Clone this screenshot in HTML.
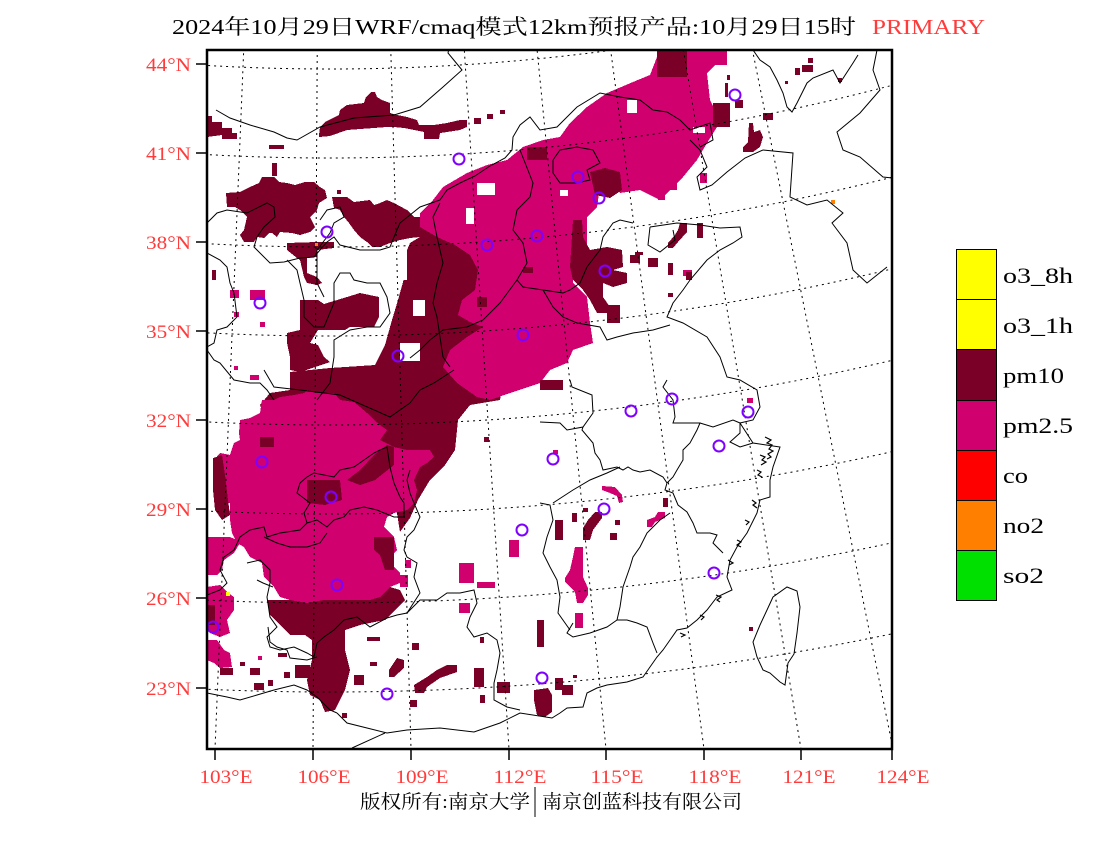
<!DOCTYPE html>
<html><head><meta charset="utf-8"><style>
html,body{margin:0;padding:0;background:#fff;}
svg{display:block;}
.t{font-family:"Liberation Serif","Noto Serif CJK SC",serif;}
.r{fill:#ff3b3b;}
</style></head><body>
<svg width="1100" height="850" viewBox="0 0 1100 850" xmlns="http://www.w3.org/2000/svg">
<defs><clipPath id="c"><rect x="207" y="50" width="685" height="699"/></clipPath></defs>
<rect width="1100" height="850" fill="#fff"/>

<!-- title -->
<text class="t" x="172" y="34" font-size="21" textLength="684" lengthAdjust="spacingAndGlyphs" fill="#000">2024年10月29日WRF/cmaq模式12km预报产品:10月29日15时</text>
<text class="t" x="872" y="34" font-size="21" textLength="113" lengthAdjust="spacingAndGlyphs" fill="#ff3b3b">PRIMARY</text>

<g clip-path="url(#c)">
<g shape-rendering="crispEdges">
<!-- pm10 dark base -->
<g fill="#7b0027">
<polygon points="207,116 212,116 212,122 222,122 222,128 232,128 232,133 237,133 237,139 222,139 222,135 207,137"/>
<rect x="269" y="145" width="15" height="4"/>
<polygon points="319,135 320,127 325,122 339,115 340,110 347,105 364,103 366,97 371,92 375,92 377,97 382,100 390,103 390,113 397,115 407,117 417,120 419,125 434,125 447,123 460,120 467,120 467,127 460,130 447,132 440,133 439,139 424,139 424,132 414,130 404,128 394,127 387,127 347,130 330,136 319,137"/>
<rect x="474" y="118" width="7" height="6"/><rect x="487" y="114" width="6" height="5"/><rect x="500" y="110" width="5" height="4"/>
<polygon points="226,193 240,192 250,187 259,183 262,177 274,177 279,182 287,183 295,185 305,182 314,182 320,187 325,190 327,198 319,203 317,210 310,217 315,227 310,232 300,235 292,233 280,232 277,237 272,233 269,233 264,238 257,237 254,242 244,242 240,235 244,230 247,217 240,210 235,207 227,207"/>
<rect x="272" y="163" width="5" height="13"/>
<rect x="212" y="270" width="4" height="10"/><rect x="337" y="190" width="4" height="4"/>
<polygon points="332,197 347,197 354,202 370,200 374,205 380,203 387,200 394,203 407,210 414,217 424,217 429,213 427,230 420,237 410,238 400,240 390,243 380,247 372,247 367,242 360,237 354,230 349,223 344,217 340,210 334,208"/>
<polygon points="287,243 317,242 334,242 334,248 317,250 317,257 307,258 307,273 317,277 322,283 317,285 307,283 304,277 300,260 297,258 287,250"/>
<polygon points="300,300 318,300 324,304 347,297 360,293 379,297 379,317 374,327 350,327 345,330 318,330 310,343 287,343 287,333 300,330"/>
<polygon points="287,343 310,343 318,345 324,357 330,362 300,372 290,370 290,357"/>
<polygon points="410,243 420,237 427,230 440,200 455,192 470,215 480,250 492,290 500,330 505,370 500,400 470,405 458,420 455,450 445,465 430,480 418,500 410,518 400,532 390,470 370,430 340,410 300,405 290,395 290,372 330,368 375,365 385,345 392,320 398,300 405,275 405,255"/>
<polygon points="260,405 270,393 290,390 295,400 262,410"/>
<!-- south dark -->
<polygon points="267,600 290,600 307,603 323,600 370,600 390,587 400,590 405,600 395,610 385,620 360,625 345,630 345,650 350,670 345,690 340,700 335,710 325,712 320,700 310,695 307,680 312,660 312,640 305,635 290,635 280,625 270,615"/>
</g>

<!-- pm2.5 magenta -->
<g fill="#d0006f">
<polygon points="477,397 457,383 443,367 450,350 467,337 483,327 470,322 458,315 462,300 475,290 478,270 470,255 455,245 437,237 420,227 420,213 433,200 443,187 467,173 487,165 507,160 523,147 543,140 560,137 570,123 587,107 607,93 633,82 650,75 657,57 667,50 727,50 717,63 707,73 710,100 715,110 717,127 707,143 697,160 683,177 670,190 660,200 640,190 620,193 613,183 600,187 597,207 587,217 587,250 573,263 573,283 587,297 590,323 593,343 573,350 567,363 550,370 540,383 510,393 490,400"/>
<polygon points="214,460 220,453 230,455 234,443 240,440 239,433 240,420 250,418 260,413 262,400 274,400 280,397 294,395 304,393 307,390 317,393 334,393 340,400 354,402 360,407 367,413 374,420 380,425 387,430 380,440 394,447 407,450 420,450 430,450 434,457 427,463 420,467 414,480 417,490 414,503 407,510 394,513 387,517 384,527 394,537 397,550 390,557 394,567 400,573 400,583 390,587 380,597 370,600 347,600 324,600 307,603 290,600 280,597 274,587 264,577 262,563 250,557 244,547 237,543 232,533 230,520 230,503 220,503 217,497 214,487"/>
<polygon points="207,537 224,537 230,537 237,540 240,543 234,553 224,560 222,570 217,575 207,575"/>
<polygon points="207,587 220,585 227,592 234,597 234,610 227,620 230,633 220,637 210,633 207,630"/>
<polygon points="207,640 217,640 224,650 230,653 232,667 220,668 214,663 207,660"/>
<rect x="509" y="540" width="10" height="17"/><rect x="459" y="563" width="15" height="20"/><rect x="477" y="582" width="18" height="6"/><rect x="459" y="603" width="11" height="10"/>
<rect x="230" y="290" width="9" height="8"/><rect x="250" y="290" width="15" height="10"/><rect x="234" y="312" width="5" height="5"/><rect x="260" y="322" width="5" height="5"/>
<rect x="234" y="366" width="4" height="4"/><rect x="250" y="375" width="9" height="5"/><rect x="258" y="656" width="4" height="4"/>
<rect x="400" y="575" width="8" height="12"/><rect x="405" y="560" width="6" height="8"/>
<polygon points="602,486 615,487 622,495 623,502 619,503 617,496 610,493 602,490"/>
<polygon points="658,512 665,512 665,518 655,522 652,527 647,527 647,520 655,517"/>
<polygon points="575,547 583,547 583,577 588,588 588,595 583,603 577,603 575,592 565,582 565,578 570,570 573,557"/>
<rect x="575" y="613" width="8" height="15"/><rect x="747" y="398" width="6" height="5"/>
<rect x="658" y="193" width="7" height="7"/><rect x="663" y="182" width="14" height="8"/><rect x="700" y="173" width="7" height="10"/>
<rect x="690" y="50" width="37" height="15"/>
<rect x="683" y="270" width="9" height="6"/><rect x="553" y="450" width="5" height="4"/>
</g>

<!-- pm10 overlays -->
<g fill="#7b0027">
<polygon points="213,458 222,455 225,475 228,500 230,515 222,520 215,510 213,490"/>
<rect x="260" y="437" width="14" height="10"/>
<polygon points="307,480 340,480 342,500 325,505 307,503"/>
<polygon points="347,480 360,470 374,455 387,445 394,447 394,465 375,480 360,485"/>
<polygon points="374,537 394,537 394,570 385,570 380,555 374,550"/>
<rect x="207" y="605" width="8" height="20"/>
<rect x="657" y="50" width="30" height="27"/>
<rect x="713" y="103" width="17" height="24"/>
<rect x="527" y="147" width="20" height="13"/>
<polygon points="590,172 605,168 620,172 622,190 610,198 595,195"/>
<rect x="477" y="297" width="10" height="10"/><rect x="523" y="267" width="10" height="6"/>
<rect x="610" y="172" width="7" height="5"/>
<polygon points="573,220 582,220 583,237 590,250 607,247 622,250 623,267 613,270 627,273 627,283 613,287 603,283 603,297 610,307 610,313 597,313 590,300 583,290 573,280 570,267"/>
<rect x="607" y="305" width="13" height="18"/>
<polygon points="749,123 753,123 754,132 760,130 763,137 760,147 753,152 743,152 743,147 748,142"/>
<rect x="763" y="113" width="10" height="7"/><rect x="802" y="65" width="11" height="7"/><rect x="795" y="68" width="5" height="7"/><rect x="808" y="58" width="5" height="5"/><rect x="785" y="81" width="3" height="3"/><rect x="838" y="78" width="4" height="4"/>
<rect x="727" y="75" width="3" height="5"/><rect x="725" y="83" width="3" height="14"/><rect x="735" y="100" width="8" height="8"/>
<polygon points="680,223 687,223 687,232 678,242 673,248 668,248 668,243 675,235 678,230"/>
<rect x="697" y="223" width="6" height="15"/><rect x="648" y="258" width="10" height="9"/><rect x="635" y="252" width="8" height="3"/><rect x="630" y="255" width="10" height="8"/>
<rect x="668" y="263" width="5" height="12"/><rect x="686" y="272" width="6" height="8"/><rect x="668" y="293" width="5" height="4"/>
<rect x="295" y="665" width="15" height="13"/><rect x="254" y="683" width="10" height="7"/><rect x="284" y="672" width="6" height="6"/><rect x="250" y="668" width="10" height="7"/>
<rect x="240" y="662" width="5" height="4"/><rect x="268" y="680" width="5" height="6"/><rect x="278" y="653" width="9" height="4"/><rect x="220" y="668" width="13" height="7"/>
<rect x="367" y="637" width="13" height="4"/><rect x="370" y="662" width="7" height="4"/>
<polygon points="397,658 404,660 404,668 394,677 389,677 389,670"/>
<polygon points="447,665 457,665 457,672 440,678 427,687 424,693 415,693 414,685 427,677 437,670"/>
<rect x="412" y="643" width="7" height="7"/><rect x="410" y="700" width="7" height="7"/><rect x="342" y="713" width="5" height="5"/><rect x="354" y="675" width="10" height="10"/>
<rect x="474" y="668" width="10" height="19"/><rect x="480" y="695" width="5" height="8"/><rect x="497" y="682" width="13" height="11"/>
<polygon points="534,690 548,688 552,695 552,712 545,717 537,715 534,700"/>
<rect x="537" y="620" width="7" height="27"/><rect x="480" y="637" width="4" height="6"/><rect x="484" y="437" width="5" height="5"/>
<rect x="555" y="520" width="8" height="20"/><rect x="572" y="513" width="5" height="9"/><rect x="610" y="533" width="7" height="7"/><rect x="615" y="520" width="5" height="5"/><rect x="583" y="508" width="5" height="4"/><rect x="663" y="498" width="5" height="9"/>
<polygon points="595,512 602,512 602,518 593,530 590,540 583,540 583,528 588,520"/>
<rect x="555" y="678" width="8" height="12"/><rect x="562" y="685" width="11" height="10"/><rect x="573" y="675" width="4" height="3"/><rect x="749" y="627" width="4" height="4"/>
<rect x="540" y="380" width="23" height="10"/>
</g>
<!-- white holes -->
<g fill="#fff">
<rect x="627" y="100" width="10" height="13"/><rect x="693" y="127" width="12" height="6"/><rect x="477" y="183" width="18" height="12"/><rect x="466" y="208" width="8" height="16"/>
<rect x="560" y="190" width="8" height="6"/><rect x="400" y="343" width="20" height="18"/><rect x="413" y="300" width="12" height="16"/>
<rect x="395" y="250" width="12" height="30"/>
</g>
<rect x="226" y="592" width="4" height="4" fill="#ffff00"/>
<rect x="831" y="200" width="4" height="4" fill="#ff8000"/>
<rect x="315" y="243" width="3" height="3" fill="#ff8000"/>
</g>

<!-- gridlines -->
<g fill="none" stroke="#000" stroke-width="1" stroke-dasharray="2 4">
<circle cx="330" cy="-2051" r="2120"/>
<circle cx="330" cy="-2051" r="2209"/>
<circle cx="330" cy="-2051" r="2298"/>
<circle cx="330" cy="-2051" r="2387"/>
<circle cx="330" cy="-2051" r="2476"/>
<circle cx="330" cy="-2051" r="2565"/>
<circle cx="330" cy="-2051" r="2654"/>
<circle cx="330" cy="-2051" r="2743"/>
<line x1="330" y1="-2051" x2="215" y2="749"/>
<line x1="330" y1="-2051" x2="313" y2="749"/>
<line x1="330" y1="-2051" x2="411" y2="749"/>
<line x1="330" y1="-2051" x2="509" y2="749"/>
<line x1="330" y1="-2051" x2="606" y2="749"/>
<line x1="330" y1="-2051" x2="704" y2="749"/>
<line x1="330" y1="-2051" x2="801" y2="749"/>
<line x1="330" y1="-2051" x2="893" y2="749"/>
</g>

<!-- boundaries -->
<g fill="none" stroke="#000" stroke-width="1">
<polyline points="216,110 230,118 250,125 274,132 287,138 297,140 320,127 354,118 394,115 420,107 443,87 462,70 448,53 449,48"/>
<polyline points="400,223 420,207 440,200 447,190 460,183 475,176 490,166 505,158 512,150 513,137 520,125 530,117 540,130 557,127 577,107 600,93 620,97 640,100 653,110 667,112 680,120 690,130 710,123 713,140 700,147"/>
<polyline points="207,223 217,213 227,210 247,213 267,203 274,207 275,217 264,227 257,237 254,247 270,263 284,262 300,258 314,257 320,250 327,242 334,237 340,245 360,250 380,250 390,247 394,237 400,223"/>
<polyline points="320,220 327,210 340,207 344,217 334,223 330,233 317,250 317,267 317,283 324,297"/>
<polyline points="287,260 297,270 300,283 304,300 304,317 314,327 324,327 334,303 334,283 340,273 350,273 354,280 367,283 380,283 387,297 390,313 380,327 367,327 350,330 334,340 334,357 330,383 317,400"/>
<polyline points="440,203 433,217 437,237 443,263 437,283 433,303 437,317 440,337 443,357 450,367"/>
<polyline points="520,150 533,183 530,197 517,210 513,230 523,243 527,263 517,280 523,287 543,290 563,293 570,290 580,283 587,267 600,250 603,237 613,223 620,220 633,223"/>
<polyline points="517,280 500,303 483,320 467,327 443,330 430,340 420,350 410,358"/>
<polyline points="553,160 560,150 577,147 593,150 600,163 587,170 590,180 577,183 560,183 553,173 553,160"/>
<polyline points="543,290 553,307 563,317 577,323 600,327 607,340 617,337 633,333 653,330 670,325"/>
<polyline points="207,253 220,260 227,267 230,283 234,293 237,317 227,327 217,330 214,343 207,347"/>
<polyline points="207,350 214,360 220,363 234,380 250,383 260,383 267,390 274,400"/>
<polyline points="264,370 274,387 300,390 340,395 390,417 410,403 420,390 434,383 454,370"/>
<polyline points="300,483 307,477 314,473 334,477 340,470 354,467 364,460 374,453 380,450 387,447 390,467 394,483 400,497 404,503 404,517 394,517 384,513 377,510 364,507 350,510 344,517 334,520 327,527 317,520 307,523 304,513 310,503 297,493 300,483"/>
<polyline points="307,523 300,530 280,533 267,537 264,527 250,530 240,537 234,550 224,557 220,570 227,583 220,590 207,595"/>
<polyline points="264,537 277,543 290,547 307,547 320,543 327,533"/>
<polyline points="247,563 260,560 270,570 270,583 267,597 270,617 277,627 267,637 270,647 280,650 294,647 307,653 314,657 317,643 324,637 334,630 344,620 357,617 370,627 387,618 397,615 407,613 420,593 414,577 417,563 407,557 404,550 407,537 414,530 420,517 414,503 410,493 407,480 410,470"/>
<polyline points="407,613 420,600 437,600 447,593 460,593 474,590 477,603 470,617 467,627 474,637 487,633 497,640 500,653 497,670 494,683 494,700 507,707 520,710"/>
<polyline points="207,693 227,697 240,700 257,695 274,690 294,685 307,690 317,697 330,710 337,713"/>
<polyline points="268,627 270,642 277,647 287,650 290,658 307,660 317,657"/>
<polyline points="257,580 263,583 273,587"/>
<polyline points="540,422 560,423 567,430 583,427 593,413 592,395 572,387 570,380"/>
<polyline points="583,427 582,430 593,443 595,453 600,460 603,470 617,467 623,470 628,467 633,470 640,472 650,470 663,477 667,483 665,490 673,493 678,505 687,512 693,523 697,533 710,533 717,535 713,543 723,553"/>
<polyline points="667,380 663,387 673,400 675,417 673,423 683,423 700,423 697,430 690,443 683,450 683,460 677,470 673,477 667,483"/>
<polyline points="700,423 713,427 733,420 740,423 740,433 730,442 740,447 753,443"/>
<polyline points="670,513 660,520 647,533 640,547 633,557 630,567 623,587 620,607 617,620 627,620 637,623 647,627 653,643 657,653"/>
<polyline points="617,620 607,627 590,633 573,637 567,633 573,623"/>
<polyline points="540,503 550,505 553,520 547,537 543,553 550,567 557,580 560,597 558,613 570,630"/>
<polyline points="553,503 573,490 590,480 607,473 620,467"/>
<polyline points="753,50 760,60 770,67 777,80 783,93 787,107 792,112 797,103 807,83 813,78 833,70 840,83 853,63 858,55"/>
<polyline points="877,50 873,70 880,90 860,113 837,132 843,150 860,157 883,177 892,178"/>
<polyline points="763,150 793,153 790,197 807,205 827,200 843,213 832,223 847,243 853,270 867,283 887,267"/>
<polyline points="763,150 745,158 727,172 712,185 700,190 697,177 707,167 700,150 690,140"/>
<polyline points="650,227 677,223 700,225 720,228 740,227 742,237 733,243 720,250 707,260 690,280 683,290 673,303 667,317 683,323 707,337 720,357 727,377 740,380 757,390 760,407 753,420 740,423 753,443 780,447 773,467 770,480 770,497 760,500 757,513 747,533 737,547 730,560 727,577 732,590 717,597 707,610 697,620 687,628 677,630 670,640 663,650 657,657 650,667 643,677 627,682 607,685 597,688 587,693 583,707 567,708 560,713 552,718 520,713 500,723 474,732 440,728 407,730 387,733 367,728 347,723 337,713"/>
<polyline points="650,227 648,245 660,252 675,240 673,230"/>
<polyline points="352,748 385,733"/>
<polygon points="787,587 797,591 800,607 797,633 794,654 788,663 785,685 780,682 770,673 763,670 757,657 753,642 760,625 767,610 773,597"/>
</g>
<g fill="none" stroke="#000" stroke-width="1.2">
<path d="M765,437 l6,3 -4,3 5,2 -3,4 4,2 -5,3 3,3 -4,2 M760,455 l5,2 -3,3 4,2 -5,3 M757,470 l4,2 -3,3 4,2 M752,500 l4,3 -3,2 4,3 M745,520 l4,2 -3,3 M737,540 l4,2 -4,3 4,2 M728,560 l5,3 -4,2 M716,595 l5,2 -4,3 3,2 M700,615 l4,2 -3,3 M680,633 l5,2 -4,2"/>
</g>

<!-- stations -->
<g fill="none" stroke="#7f00ff" stroke-width="2">
<circle cx="735" cy="95" r="5.5"/><circle cx="459" cy="159" r="5.5"/><circle cx="578" cy="177" r="5.5"/><circle cx="599" cy="198" r="5.5"/>
<circle cx="327" cy="232" r="5.5"/><circle cx="537" cy="236" r="5.5"/><circle cx="487" cy="245" r="5.5"/><circle cx="605" cy="271" r="5.5"/>
<circle cx="260" cy="303" r="5.5"/><circle cx="523" cy="335" r="5.5"/><circle cx="398" cy="356" r="5.5"/><circle cx="672" cy="399" r="5.5"/>
<circle cx="631" cy="411" r="5.5"/><circle cx="748" cy="412" r="5.5"/><circle cx="719" cy="446" r="5.5"/><circle cx="553" cy="459" r="5.5"/>
<circle cx="262" cy="462" r="5.5"/><circle cx="331" cy="497" r="5.5"/><circle cx="604" cy="509" r="5.5"/><circle cx="522" cy="530" r="5.5"/>
<circle cx="337" cy="585" r="5.5"/><circle cx="714" cy="573" r="5.5"/><circle cx="213" cy="627" r="5.5"/><circle cx="542" cy="678" r="5.5"/>
<circle cx="387" cy="694" r="5.5"/>
</g>
</g>

<!-- frame -->
<rect x="207" y="50" width="685" height="699" fill="none" stroke="#000" stroke-width="2.5"/>

<!-- ticks -->
<g stroke="#000" stroke-width="1.5">
<line x1="196" y1="64" x2="207" y2="64"/><line x1="196" y1="153" x2="207" y2="153"/><line x1="196" y1="242" x2="207" y2="242"/><line x1="196" y1="331" x2="207" y2="331"/>
<line x1="196" y1="420" x2="207" y2="420"/><line x1="196" y1="509" x2="207" y2="509"/><line x1="196" y1="598" x2="207" y2="598"/><line x1="196" y1="688" x2="207" y2="688"/>
<line x1="215" y1="749" x2="215" y2="760"/><line x1="313" y1="749" x2="313" y2="760"/><line x1="411" y1="749" x2="411" y2="760"/><line x1="509" y1="749" x2="509" y2="760"/>
<line x1="606" y1="749" x2="606" y2="760"/><line x1="704" y1="749" x2="704" y2="760"/><line x1="801" y1="749" x2="801" y2="760"/><line x1="892" y1="749" x2="892" y2="760"/>
</g>

<!-- lat labels -->
<g class="t r" font-size="19" text-anchor="end">
<text x="191" y="71" textLength="45" lengthAdjust="spacingAndGlyphs">44°N</text>
<text x="191" y="160" textLength="45" lengthAdjust="spacingAndGlyphs">41°N</text>
<text x="191" y="249" textLength="45" lengthAdjust="spacingAndGlyphs">38°N</text>
<text x="191" y="338" textLength="45" lengthAdjust="spacingAndGlyphs">35°N</text>
<text x="191" y="427" textLength="45" lengthAdjust="spacingAndGlyphs">32°N</text>
<text x="191" y="516" textLength="45" lengthAdjust="spacingAndGlyphs">29°N</text>
<text x="191" y="605" textLength="45" lengthAdjust="spacingAndGlyphs">26°N</text>
<text x="191" y="695" textLength="45" lengthAdjust="spacingAndGlyphs">23°N</text>
</g>
<!-- lon labels -->
<g class="t r" font-size="19" text-anchor="middle">
<text x="226" y="783" textLength="53" lengthAdjust="spacingAndGlyphs">103°E</text>
<text x="324" y="783" textLength="53" lengthAdjust="spacingAndGlyphs">106°E</text>
<text x="422" y="783" textLength="53" lengthAdjust="spacingAndGlyphs">109°E</text>
<text x="520" y="783" textLength="53" lengthAdjust="spacingAndGlyphs">112°E</text>
<text x="617" y="783" textLength="53" lengthAdjust="spacingAndGlyphs">115°E</text>
<text x="715" y="783" textLength="53" lengthAdjust="spacingAndGlyphs">118°E</text>
<text x="809" y="783" textLength="53" lengthAdjust="spacingAndGlyphs">121°E</text>
<text x="903" y="783" textLength="53" lengthAdjust="spacingAndGlyphs">124°E</text>
</g>

<!-- copyright -->
<text class="t" x="360" y="808" font-size="19" textLength="170" lengthAdjust="spacingAndGlyphs" fill="#000">版权所有:南京大学</text>
<line x1="535" y1="787" x2="535" y2="817" stroke="#000" stroke-width="1"/>
<text class="t" x="542" y="808" font-size="19" textLength="200" lengthAdjust="spacingAndGlyphs" fill="#000">南京创蓝科技有限公司</text>

<!-- legend -->
<g stroke="#000" stroke-width="1">
<rect x="956.5" y="249.5" width="40" height="50" fill="#ffff00"/>
<rect x="956.5" y="299.5" width="40" height="50" fill="#ffff00"/>
<rect x="956.5" y="349.5" width="40" height="51" fill="#7b0027"/>
<rect x="956.5" y="400.5" width="40" height="50" fill="#d0006f"/>
<rect x="956.5" y="450.5" width="40" height="50" fill="#ff0000"/>
<rect x="956.5" y="500.5" width="40" height="50" fill="#ff8000"/>
<rect x="956.5" y="550.5" width="40" height="50" fill="#00e000"/>
</g>
<g class="t" font-size="22" fill="#000">
<text x="1003" y="283" textLength="70" lengthAdjust="spacingAndGlyphs">o3_8h</text>
<text x="1003" y="333" textLength="70" lengthAdjust="spacingAndGlyphs">o3_1h</text>
<text x="1003" y="383" textLength="61" lengthAdjust="spacingAndGlyphs">pm10</text>
<text x="1003" y="433" textLength="70" lengthAdjust="spacingAndGlyphs">pm2.5</text>
<text x="1003" y="483" textLength="25" lengthAdjust="spacingAndGlyphs">co</text>
<text x="1003" y="533" textLength="41" lengthAdjust="spacingAndGlyphs">no2</text>
<text x="1003" y="583" textLength="41" lengthAdjust="spacingAndGlyphs">so2</text>
</g>
</svg>
</body></html>
